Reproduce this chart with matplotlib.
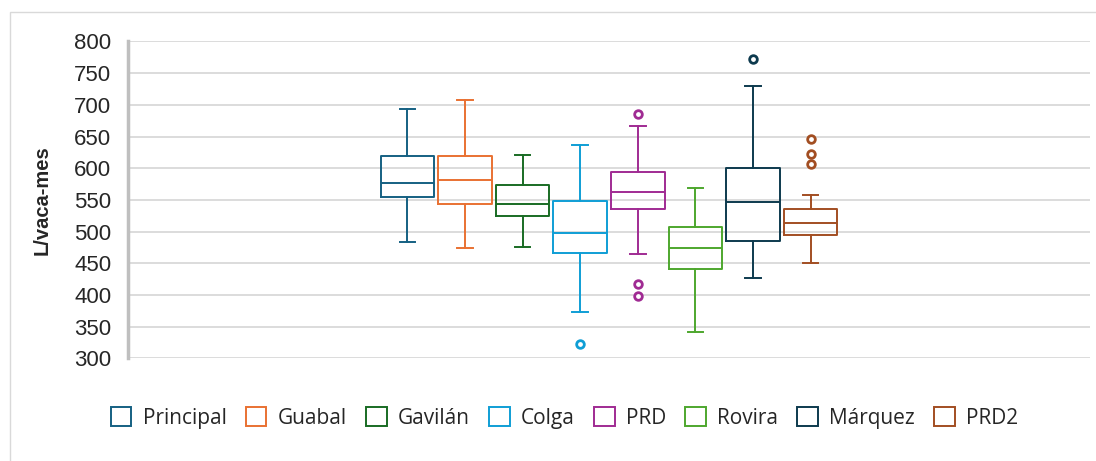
"""Box plot of monthly milk yield per cow across farms."""

from matplotlib import pyplot
from matplotlib.patches import Patch, Rectangle

# Summary statistics per farm (L/vaca-mes).
farms = ['Principal', 'Guabal', 'Gavilán', 'Colga', 'PRD', 'Rovira',
         'Márquez', 'PRD2']
whisker_low = [483, 474, 476, 373, 464, 342, 427, 451]
q1 = [555, 544, 524, 466, 536, 441, 485, 495]
median = [577, 582, 544, 497, 563, 474, 547, 514]
q3 = [619, 619, 573, 548, 594, 507, 600, 536]
whisker_high = [694, 708, 621, 636, 667, 568, 729, 557]
outliers = [[], [], [], [322], [686, 418, 399], [], [772], [646, 623, 607]]

colors = ['#156082', '#E97132', '#196B24', '#0F9ED5', '#A02B93',
          '#4EA72E', '#0D3A4E', '#A24E22']

pyplot.rc('font', family='Liberation Sans')

fig = pyplot.figure(figsize=(10.96, 4.61), dpi=100)
ax = fig.add_axes([128 / 1096, 102.7 / 461, 962 / 1096, 316.8 / 461])

# Chart frame.
fig.patches.append(Rectangle((10 / 1096, -0.1), 1.2, 1 - 12 / 461 + 0.1,
                             transform=fig.transFigure, fill=False,
                             edgecolor='#d9d9d9', linewidth=1.0))

for i, farm in enumerate(farms):
    stats = [dict(label=farm, whislo=whisker_low[i], q1=q1[i],
                  med=median[i], q3=q3[i], whishi=whisker_high[i],
                  fliers=outliers[i])]
    line = dict(color=colors[i], linewidth=1.4)
    ax.bxp(stats, positions=[i], widths=0.93, capwidths=0.27,
           boxprops=line, whiskerprops=line, capprops=line,
           medianprops=line,
           flierprops=dict(marker='o', markersize=5.5,
                           markerfacecolor='white',
                           markeredgecolor=colors[i],
                           markeredgewidth=2.0),
           manage_ticks=False)

ax.set_xlim(3.5 - 8.35, 3.5 + 8.35)
ax.set_ylim(300, 800)
ax.set_yticks(range(300, 801, 50))
ax.set_xticks([])
ax.grid(axis='y', color='#d9d9d9', linewidth=1.3)
ax.set_axisbelow(True)
for side in ['top', 'right', 'bottom']:
    ax.spines[side].set_visible(False)
ax.spines['left'].set_color('#bfbfbf')
ax.spines['left'].set_linewidth(2.5)
ax.tick_params(axis='y', length=0, pad=12, labelsize=16,
               labelcolor='#262626')
ax.set_ylabel('L/vaca-mes', fontsize=14.5, fontweight='bold',
              color='#262626', labelpad=16)

handles = [Patch(facecolor='white', edgecolor=c, linewidth=1.4, label=f)
           for f, c in zip(farms, colors)]
fig.legend(handles=handles, loc='center', ncol=len(farms),
           bbox_to_anchor=(0.515, 0.093), frameon=False,
           prop=dict(family='Open Sans', size=15),
           handlelength=1.0, handleheight=1.0, handletextpad=0.55,
           columnspacing=0.9, labelcolor='#262626')

fig.savefig('out.png', dpi=100)
